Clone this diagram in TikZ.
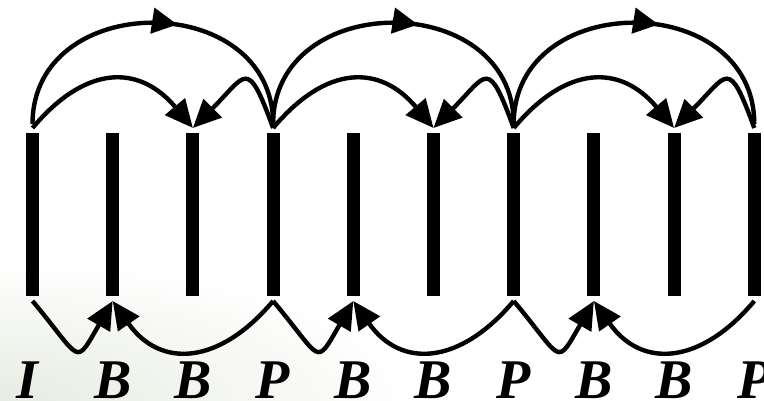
\documentclass[tikz,border=0pt]{standalone}
\usepackage{fontspec}
\setmainfont{Liberation Serif}
\usetikzlibrary{arrows.meta,positioning,decorations.markings}
\definecolor{swoosh}{RGB}{232,236,226}

\begin{document}
\begin{tikzpicture}[x=0.75pt,y=0.75pt,
  frame/.style={rectangle,fill=black,minimum width=9.75pt,minimum height=122.25pt,inner sep=0pt,outer sep=3.75pt},
  lbl/.style={font=\fontsize{42}{46}\selectfont\bfseries\itshape,inner sep=0pt,anchor=base},
  ref/.style={line width=3.3pt,-{Triangle[length=21pt,width=19pt]}},
  fwd/.style={line width=3.3pt,postaction={decorate},
    decoration={markings,mark=at position 0.57 with {\arrow{Triangle[length=19pt,width=19pt]}}}},
  node distance=60.15pt, on grid]
\useasboundingbox (0,0) rectangle (764,400);
\fill[white] (0,0) rectangle (764,400);
\shade[inner color=swoosh,outer color=white] (0,0) ellipse (420 and 140);

% the frames, left to right
\node[frame] (f0) at (32.5,185.5) {};
\node[frame, right=of f0] (f1) {};
\node[frame, right=of f1] (f2) {};
\node[frame, right=of f2] (f3) {};
\node[frame, right=of f3] (f4) {};
\node[frame, right=of f4] (f5) {};
\node[frame, right=of f5] (f6) {};
\node[frame, right=of f6] (f7) {};
\node[frame, right=of f7] (f8) {};
\node[frame, right=of f8] (f9) {};

% frame types
\coordinate (base) at (0,1.5);
\node[lbl] (l0) at ([xshift=-4pt]f0 |- base) {I};
\node[lbl] (l1) at (f1 |- base) {B};
\node[lbl] (l2) at (f2 |- base) {B};
\node[lbl] (l3) at (f3 |- base) {P};
\node[lbl] (l4) at (f4 |- base) {B};
\node[lbl] (l5) at (f5 |- base) {B};
\node[lbl] (l6) at (f6 |- base) {P};
\node[lbl] (l7) at (f7 |- base) {B};
\node[lbl] (l8) at (f8 |- base) {B};
\node[lbl] (l9) at (f9 |- base) {P};

% forward prediction I -> P -> P
\draw[fwd] ([yshift=3pt]f0.north) to[out=90,in=90,looseness=1.44] ([yshift=3pt]f3.north);
\draw[fwd] ([yshift=3pt]f3.north) to[out=90,in=90,looseness=1.44] ([yshift=3pt]f6.north);
\draw[fwd] ([yshift=3pt]f6.north) to[out=90,in=90,looseness=1.44] ([yshift=3pt]f9.north);

% second B of each group, over the top
\draw[ref] (f0.north) to[out=50,in=130,looseness=1.33] (f2.north);
\draw[ref] (f3.north) to[out=110,in=45,distance=57pt] (f2.north);
\draw[ref] (f3.north) to[out=50,in=130,looseness=1.33] (f5.north);
\draw[ref] (f6.north) to[out=110,in=45,distance=57pt] (f5.north);
\draw[ref] (f6.north) to[out=50,in=130,looseness=1.33] (f8.north);
\draw[ref] (f9.north) to[out=110,in=45,distance=57pt] (f8.north);

% first B of each group, underneath
\draw[ref] (f0.south) to[out=-50,in=-120,distance=58pt] (f1.south);
\draw[ref] (f3.south) to[out=-130,in=-55,looseness=1.33] (f1.south);
\draw[ref] (f3.south) to[out=-50,in=-120,distance=58pt] (f4.south);
\draw[ref] (f6.south) to[out=-130,in=-55,looseness=1.33] (f4.south);
\draw[ref] (f6.south) to[out=-50,in=-120,distance=58pt] (f7.south);
\draw[ref] (f9.south) to[out=-130,in=-55,looseness=1.33] (f7.south);
\end{tikzpicture}
\end{document}
